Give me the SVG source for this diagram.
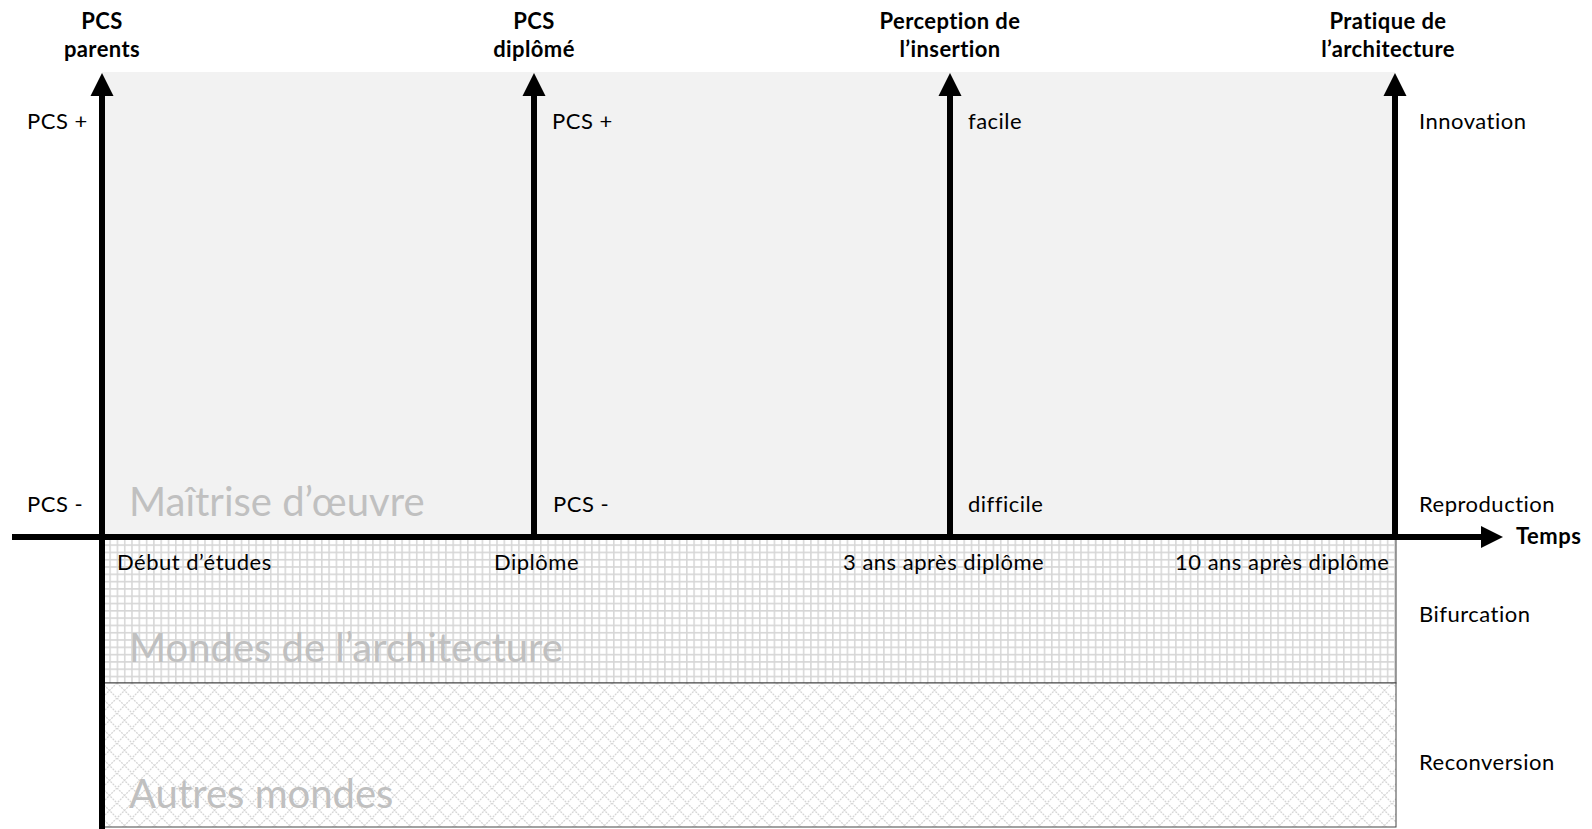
<svg xmlns="http://www.w3.org/2000/svg" width="1592" height="829" viewBox="0 0 1592 829">
<style>
text{font-family:Lato,"Liberation Sans",sans-serif;fill:#000;font-size:22px;letter-spacing:0.5px}
.b{font-weight:bold;text-anchor:middle;letter-spacing:0.4px}
.big{fill:#c0c0c0;font-size:40px;letter-spacing:0}
.ax{stroke:#000;stroke-width:6;fill:none}
</style>
<defs>
<pattern id="grid" width="7.3" height="7.3" patternUnits="userSpaceOnUse" x="102" y="537">
<rect width="7.3" height="7.3" fill="#fff"/>
<path d="M0 0.8H7.3M0.8 0V7.3" stroke="#d6d6d6" stroke-width="1.5"/>
</pattern>
<pattern id="diag" width="15" height="15" patternUnits="userSpaceOnUse" x="102" y="683">
<rect width="15" height="15" fill="#fff"/>
<path d="M0 0L15 15M15 0L0 15" stroke="#d6d6d6" stroke-width="1.3" stroke-dasharray="2 1"/>
</pattern>
</defs>
<g id="zones">
<rect id="zone-maitrise" x="102" y="72" width="1293" height="465" fill="#f2f2f2"/>
<rect id="zone-mondes" x="102" y="537" width="1294" height="146" fill="url(#grid)" stroke="#444" stroke-width="1"/>
<rect id="zone-autres" x="102" y="683" width="1294" height="144" fill="url(#diag)" stroke="#444" stroke-width="1"/>
<text class="big" x="129" y="516">Maîtrise d’œuvre</text>
<text class="big" x="129" y="662">Mondes de l’architecture</text>
<text class="big" x="129" y="808">Autres mondes</text>
</g>
<g id="connectors">
<line class="ax" x1="12" y1="537" x2="1484" y2="537"/>
<polygon points="1481,526 1503,537 1481,548"/>
<line class="ax" x1="102" y1="94" x2="102" y2="829"/>
<polygon points="90.5,96 102,73 113.5,96"/>
<line class="ax" x1="534" y1="94" x2="534" y2="537"/>
<polygon points="522.5,96 534,73 545.5,96"/>
<line class="ax" x1="950" y1="94" x2="950" y2="537"/>
<polygon points="938.5,96 950,73 961.5,96"/>
<line class="ax" x1="1395" y1="94" x2="1395" y2="537"/>
<polygon points="1383.5,96 1395,73 1406.5,96"/>
</g>
<g id="axis-parents">
<text class="b" x="102" y="29">PCS</text>
<text class="b" x="102" y="57">parents</text>
<text x="27" y="129">PCS +</text>
<text x="27" y="512">PCS -</text>
</g>
<g id="axis-diplome">
<text class="b" x="534" y="29">PCS</text>
<text class="b" x="534" y="57">diplômé</text>
<text x="552" y="129">PCS +</text>
<text x="553" y="512">PCS -</text>
</g>
<g id="axis-insertion">
<text class="b" x="950" y="29">Perception de</text>
<text class="b" x="950" y="57">l’insertion</text>
<text x="968" y="129">facile</text>
<text x="968" y="512">difficile</text>
</g>
<g id="axis-pratique">
<text class="b" x="1388" y="29">Pratique de</text>
<text class="b" x="1388" y="57">l’architecture</text>
<text x="1419" y="129">Innovation</text>
<text x="1419" y="512">Reproduction</text>
<text x="1419" y="622">Bifurcation</text>
<text x="1419" y="770">Reconversion</text>
</g>
<g id="axis-temps">
<text x="1516" y="544" font-weight="bold" letter-spacing="0.4">Temps</text>
<text x="117" y="570">Début d’études</text>
<text x="494" y="570">Diplôme</text>
<text x="843" y="570">3 ans après diplôme</text>
<text x="1175" y="570">10 ans après diplôme</text>
</g>
</svg>
